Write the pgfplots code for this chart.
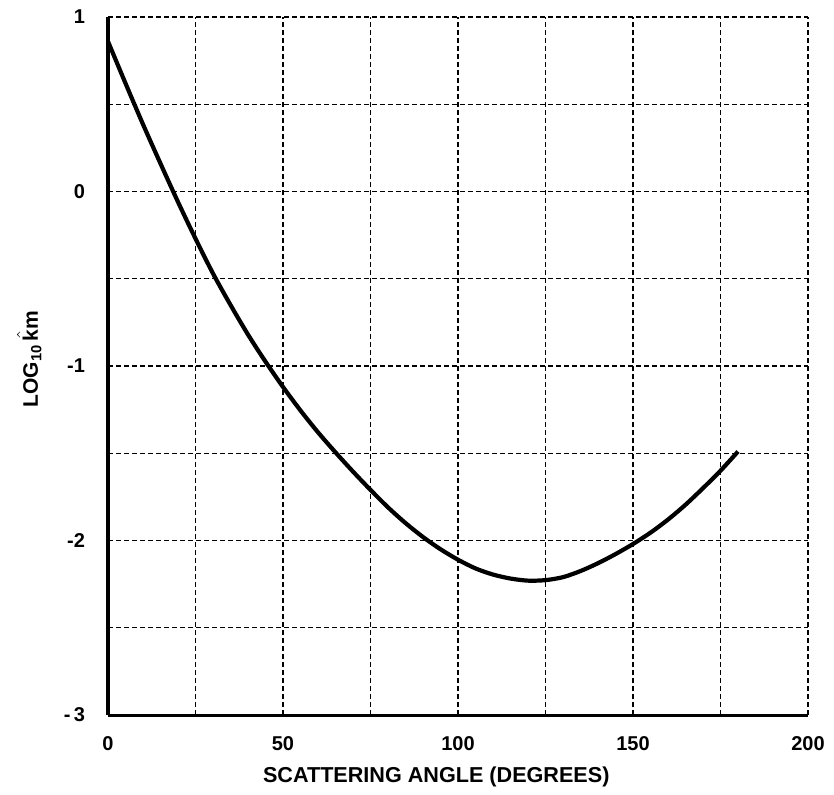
\documentclass[border=0pt]{standalone}
\usepackage{fontspec}
\setmainfont{Liberation Sans}
\usepackage{pgfplots}
\pgfplotsset{compat=1.18}
\begin{document}
\begin{tikzpicture}
\begin{axis}[
    width=350pt, height=349pt, scale only axis,
    xmin=0, xmax=200, ymin=-3, ymax=1,
    axis x line*=bottom, axis y line*=left,
    axis line style={line width=1.5pt, -},
    xtick={0,50,100,150,200}, minor xtick={25,75,125,175},
    ytick={-3,-2,-1,0,1}, minor ytick={-2.5,-1.5,-0.5,0.5},
    xticklabels={0,50,100,150,200},
    yticklabels={-\,3,-2,-1,0,1},
    major tick length=0pt, minor tick length=0pt,
    grid=both,
    major grid style={black, line width=0.6pt, dash pattern=on 2.5pt off 1.5pt},
    minor grid style={black, line width=0.6pt, dash pattern=on 2.5pt off 1.5pt},
    tick label style={font=\fontsize{10}{12}\selectfont\bfseries},
    yticklabel style={xshift=-8pt},
    xticklabel style={yshift=-7pt},
    xlabel={SCATTERING ANGLE (DEGREES)},
    xlabel style={at={(axis description cs:0.469,-0.0974)}, anchor=base,
        font=\fontsize{10.8}{13}\selectfont\bfseries},
    ylabel={LOG\textsubscript{10}\,$\hat{\mbox{k}}$m},
    ylabel style={at={(axis description cs:-0.1,0.51)}, anchor=base,
        font=\fontsize{10.5}{12}\selectfont\bfseries},
]
\addplot[black, line width=2.1pt, smooth] coordinates {
    (0,0.86) (5,0.62) (10,0.385) (15,0.16) (20,-0.06) (25,-0.27)
    (30,-0.47) (35,-0.65) (40,-0.82) (45,-0.975) (50,-1.12) (55,-1.255)
    (60,-1.38) (65,-1.495) (70,-1.605) (75,-1.71) (80,-1.81) (85,-1.90)
    (90,-1.98) (95,-2.05) (100,-2.11) (105,-2.16) (110,-2.195) (115,-2.218)
    (120,-2.23) (125,-2.227) (130,-2.21) (135,-2.175) (140,-2.13) (145,-2.078)
    (150,-2.02) (155,-1.955) (160,-1.88) (165,-1.795) (170,-1.70) (175,-1.60)
    (180,-1.49)
};
\end{axis}
\pgfresetboundingbox
\path[use as bounding box] ([shift={(-54pt,-39.5pt)}]current axis.south west)
    rectangle ([shift={(13pt,8.5pt)}]current axis.north east);
\end{tikzpicture}
\end{document}
